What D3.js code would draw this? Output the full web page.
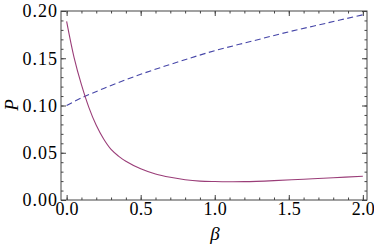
<!DOCTYPE html>
<html>
<head>
<meta charset="utf-8">
<script src="https://cdn.jsdelivr.net/npm/d3@7"></script>
<style>
  body { margin: 0; background: #fff; }
  svg { display: block; }
</style>
</head>
<body>
<svg width="374" height="247"></svg>
<script>
// values
var betaSolid = [0, 0.05, 0.1, 0.15, 0.2, 0.25, 0.3, 0.35, 0.4, 0.5, 0.6, 0.7, 0.8, 0.9, 1.0, 1.1, 1.2, 1.4, 1.6, 1.8, 2.0];
var pSolid    = [0.189, 0.151, 0.122, 0.098, 0.079, 0.0645, 0.0535, 0.0465, 0.041, 0.033, 0.0275, 0.024, 0.0215, 0.020, 0.0195, 0.0193, 0.0194, 0.0205, 0.022, 0.0235, 0.0252];

var betaDashed = [0, 0.1, 0.25, 0.5, 0.75, 1.0, 1.25, 1.5, 1.75, 2.0];
var pDashed    = [0.100, 0.108, 0.118, 0.133, 0.146, 0.158, 0.168, 0.178, 0.187, 0.196];

var xMajor = [0, 0.5, 1, 1.5, 2];
var yMajor = [0, 0.05, 0.1, 0.15, 0.2];

var FONT = "'Liberation Serif', 'Times New Roman', serif";

var svg = d3.select("svg");

var x = d3.scaleLinear().domain([-0.038, 2.028]).range([61, 367]);
var y = d3.scaleLinear().domain([0, 0.2]).range([200, 11]);

var xMinor = d3.range(0, 2.001, 0.1);
var yMinor = d3.range(0, 0.2001, 0.01);

var frameColor = "#444";

function styleAxis(spacing){
    return function(g){
        g.select(".domain").remove();
        g.attr("font-family", FONT).attr("font-size", 18);
        g.selectAll("line").attr("stroke", frameColor).attr("stroke-width", 1);
        g.selectAll("text")
            .style("font-family", FONT)
            .style("font-size", "18px")
            .style("letter-spacing", spacing + "px")
            .attr("fill", "#000");
    };
}

// bottom
svg.append("g").attr("transform", "translate(0,200)")
    .call(d3.axisBottom(x).tickValues(xMinor).tickSize(-2.5).tickFormat(""))
    .call(styleAxis(0));
svg.append("g").attr("transform", "translate(0,200)")
    .call(d3.axisBottom(x).tickValues(xMajor).tickSize(-5).tickPadding(2).tickFormat(d3.format(".1f")))
    .call(styleAxis(0.3));
// top
svg.append("g").attr("transform", "translate(0,11)")
    .call(d3.axisTop(x).tickValues(xMinor).tickSize(-2.5).tickFormat(""))
    .call(styleAxis(0));
svg.append("g").attr("transform", "translate(0,11)")
    .call(d3.axisTop(x).tickValues(xMajor).tickSize(-5).tickFormat(""))
    .call(styleAxis(0));
// left
svg.append("g").attr("transform", "translate(61,0)")
    .call(d3.axisLeft(y).tickValues(yMinor).tickSize(-2.5).tickFormat(""))
    .call(styleAxis(0));
svg.append("g").attr("transform", "translate(61,0)")
    .call(d3.axisLeft(y).tickValues(yMajor).tickSize(-5).tickPadding(3).tickFormat(d3.format(".2f")))
    .call(styleAxis(1));
// right
svg.append("g").attr("transform", "translate(367,0)")
    .call(d3.axisRight(y).tickValues(yMinor).tickSize(-2.5).tickFormat(""))
    .call(styleAxis(0));
svg.append("g").attr("transform", "translate(367,0)")
    .call(d3.axisRight(y).tickValues(yMajor).tickSize(-5).tickFormat(""))
    .call(styleAxis(0));

svg.append("rect")
    .attr("x", 61).attr("y", 11)
    .attr("width", 306).attr("height", 189)
    .attr("fill", "none").attr("stroke", frameColor).attr("stroke-width", 1);

var line = d3.line()
    .x(function(d){ return x(d[0]); })
    .y(function(d){ return y(d[1]); })
    .curve(d3.curveCatmullRom);

svg.append("path")
    .datum(d3.zip(betaDashed, pDashed))
    .attr("d", line)
    .attr("fill", "none")
    .attr("stroke", "#4646a8")
    .attr("stroke-width", 1.1)
    .attr("stroke-dasharray", "6,3.5");

svg.append("path")
    .datum(d3.zip(betaSolid, pSolid))
    .attr("d", line)
    .attr("fill", "none")
    .attr("stroke", "#9a3d78")
    .attr("stroke-width", 1.1);

// axis titles
svg.append("text")
    .attr("x", 215).attr("y", 240)
    .attr("text-anchor", "middle")
    .style("font-family", FONT)
    .style("font-size", "19px").style("font-style", "italic")
    .text("β");

svg.append("text")
    .attr("transform", "translate(18,105) rotate(-90)")
    .attr("text-anchor", "middle")
    .style("font-family", FONT)
    .style("font-size", "19px").style("font-style", "italic")
    .text("P");
</script>
</body>
</html>
